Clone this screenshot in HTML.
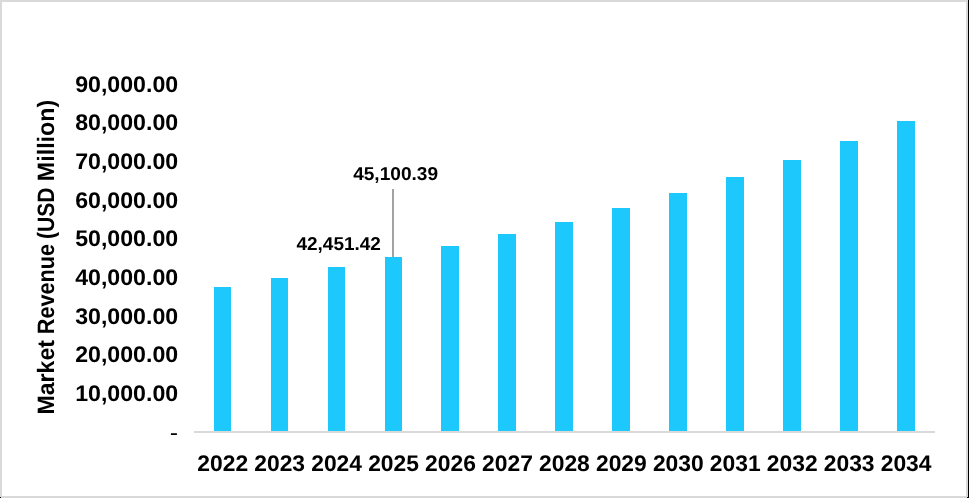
<!DOCTYPE html>
<html><head><meta charset="utf-8"><title>Market Revenue</title>
<style>
html,body{margin:0;padding:0;background:#fff;}
body{width:969px;height:498px;overflow:hidden;}
svg{display:block;will-change:transform;}
text{text-rendering:geometricPrecision;font-family:"Liberation Sans",sans-serif;font-weight:bold;fill:#000;}
</style></head><body>
<svg width="969" height="498" viewBox="0 0 969 498">
<rect x="0" y="0" width="969" height="498" fill="#fff"/>
<rect x="0" y="0" width="968" height="2" fill="#d9d9d9"/>
<rect x="0" y="0" width="2" height="498" fill="#d9d9d9"/>
<rect x="0" y="496" width="968" height="2" fill="#d9d9d9"/>
<rect x="966" y="0" width="2" height="498" fill="#d9d9d9"/>
<rect x="968" y="0" width="1" height="498" fill="#000"/>
<rect x="0" y="497" width="1" height="1" fill="#000"/>
<rect x="967" y="497" width="1" height="1" fill="#000"/>
<rect x="214" y="287" width="17" height="144" fill="#1dc9fc"/>
<rect x="271" y="278" width="17" height="153" fill="#1dc9fc"/>
<rect x="328" y="267" width="17" height="164" fill="#1dc9fc"/>
<rect x="385" y="257" width="17" height="174" fill="#1dc9fc"/>
<rect x="441" y="246" width="18" height="185" fill="#1dc9fc"/>
<rect x="498" y="234" width="18" height="197" fill="#1dc9fc"/>
<rect x="555" y="222" width="18" height="209" fill="#1dc9fc"/>
<rect x="612" y="208" width="18" height="223" fill="#1dc9fc"/>
<rect x="669" y="193" width="18" height="238" fill="#1dc9fc"/>
<rect x="726" y="177" width="18" height="254" fill="#1dc9fc"/>
<rect x="783" y="160" width="18" height="271" fill="#1dc9fc"/>
<rect x="840" y="141" width="18" height="290" fill="#1dc9fc"/>
<rect x="897" y="121" width="18" height="310" fill="#1dc9fc"/>
<rect x="194" y="431" width="741" height="2" fill="#d9d9d9"/>
<rect x="392" y="189" width="2" height="68" fill="#a3a3a3"/>
<text x="178.15" y="92" font-size="22.6" text-anchor="end" textLength="103.0" lengthAdjust="spacingAndGlyphs">90,000.00</text>
<text x="178.15" y="130" font-size="22.6" text-anchor="end" textLength="103.0" lengthAdjust="spacingAndGlyphs">80,000.00</text>
<text x="178.15" y="169" font-size="22.6" text-anchor="end" textLength="103.0" lengthAdjust="spacingAndGlyphs">70,000.00</text>
<text x="178.15" y="208" font-size="22.6" text-anchor="end" textLength="103.0" lengthAdjust="spacingAndGlyphs">60,000.00</text>
<text x="178.15" y="246" font-size="22.6" text-anchor="end" textLength="103.0" lengthAdjust="spacingAndGlyphs">50,000.00</text>
<text x="178.15" y="285" font-size="22.6" text-anchor="end" textLength="103.0" lengthAdjust="spacingAndGlyphs">40,000.00</text>
<text x="178.15" y="324" font-size="22.6" text-anchor="end" textLength="103.0" lengthAdjust="spacingAndGlyphs">30,000.00</text>
<text x="178.15" y="362" font-size="22.6" text-anchor="end" textLength="103.0" lengthAdjust="spacingAndGlyphs">20,000.00</text>
<text x="178.15" y="401" font-size="22.6" text-anchor="end" textLength="103.0" lengthAdjust="spacingAndGlyphs">10,000.00</text>
<text x="170.08" y="438" font-size="15.02" textLength="7.87" lengthAdjust="spacingAndGlyphs">-</text>
<text x="222.70" y="471.3" font-size="22.6" text-anchor="middle" textLength="50.85" lengthAdjust="spacingAndGlyphs">2022</text>
<text x="279.65" y="471.3" font-size="22.6" text-anchor="middle" textLength="50.85" lengthAdjust="spacingAndGlyphs">2023</text>
<text x="336.60" y="471.3" font-size="22.6" text-anchor="middle" textLength="50.85" lengthAdjust="spacingAndGlyphs">2024</text>
<text x="393.55" y="471.3" font-size="22.6" text-anchor="middle" textLength="50.85" lengthAdjust="spacingAndGlyphs">2025</text>
<text x="450.50" y="471.3" font-size="22.6" text-anchor="middle" textLength="50.85" lengthAdjust="spacingAndGlyphs">2026</text>
<text x="507.45" y="471.3" font-size="22.6" text-anchor="middle" textLength="50.85" lengthAdjust="spacingAndGlyphs">2027</text>
<text x="564.40" y="471.3" font-size="22.6" text-anchor="middle" textLength="50.85" lengthAdjust="spacingAndGlyphs">2028</text>
<text x="621.35" y="471.3" font-size="22.6" text-anchor="middle" textLength="50.85" lengthAdjust="spacingAndGlyphs">2029</text>
<text x="678.30" y="471.3" font-size="22.6" text-anchor="middle" textLength="50.85" lengthAdjust="spacingAndGlyphs">2030</text>
<text x="735.25" y="471.3" font-size="22.6" text-anchor="middle" textLength="50.85" lengthAdjust="spacingAndGlyphs">2031</text>
<text x="792.20" y="471.3" font-size="22.6" text-anchor="middle" textLength="50.85" lengthAdjust="spacingAndGlyphs">2032</text>
<text x="849.15" y="471.3" font-size="22.6" text-anchor="middle" textLength="50.85" lengthAdjust="spacingAndGlyphs">2033</text>
<text x="906.10" y="471.3" font-size="22.6" text-anchor="middle" textLength="50.85" lengthAdjust="spacingAndGlyphs">2034</text>
<text x="395.6" y="180" font-size="18.7" text-anchor="middle" textLength="84.9" lengthAdjust="spacingAndGlyphs">45,100.39</text>
<text x="338.7" y="250" font-size="18.7" text-anchor="middle" textLength="84.5" lengthAdjust="spacingAndGlyphs">42,451.42</text>
<text transform="translate(53.6,414.50) rotate(-90)" x="0" y="0" font-size="23.7" textLength="74.41" lengthAdjust="spacingAndGlyphs">Market</text>
<text transform="translate(53.6,334.14) rotate(-90)" x="0" y="0" font-size="23.7" textLength="90.19" lengthAdjust="spacingAndGlyphs">Revenue</text>
<text transform="translate(53.6,239.12) rotate(-90)" x="0" y="0" font-size="23.7" textLength="51.59" lengthAdjust="spacingAndGlyphs">(USD</text>
<text transform="translate(53.6,181.14) rotate(-90)" x="0" y="0" font-size="23.7" textLength="81.34" lengthAdjust="spacingAndGlyphs">Million)</text>
</svg>
</body></html>
